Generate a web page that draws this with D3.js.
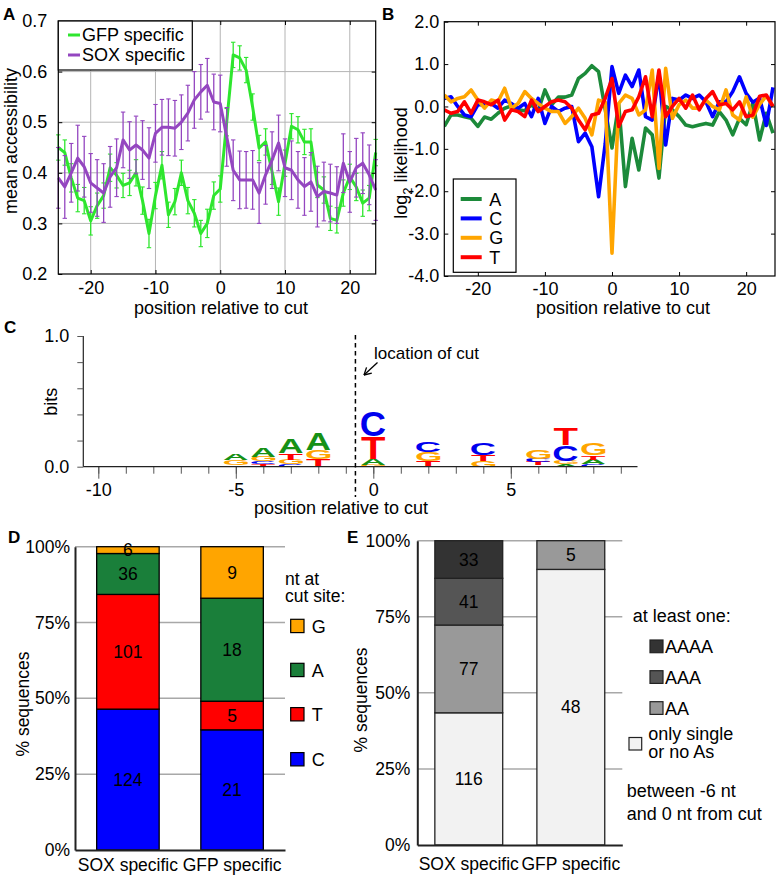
<!DOCTYPE html>
<html><head><meta charset="utf-8">
<script src="https://cdn.jsdelivr.net/npm/d3@7/dist/d3.min.js"></script>
<style>body{margin:0;background:#fff}svg{display:block}</style>
</head><body>
<svg id="fig" width="779" height="876"></svg>
<script>
// ---------------- DATA ----------------
const positionsA = d3.range(-25, 25);
const gfpMean = [0.45,0.44,0.39,0.35,0.345,0.305,0.335,0.355,0.41,0.395,0.375,0.38,0.40,0.345,0.28,0.355,0.415,0.317,0.343,0.40,0.345,0.32,0.28,0.30,0.355,
                 0.368,0.50,0.633,0.627,0.603,0.53,0.449,0.461,0.402,0.343,0.419,0.492,0.485,0.461,0.461,0.376,0.366,0.31,0.306,0.36,0.392,0.372,0.34,0.35,0.44];
const gfpErr  = [0.025,0.025,0.028,0.027,0.026,0.028,0.025,0.025,0.027,0.025,0.024,0.025,0.026,0.027,0.028,0.026,0.027,0.025,0.026,0.025,0.026,0.027,0.026,0.028,0.027,
                 0.026,0.027,0.025,0.024,0.025,0.026,0.025,0.026,0.025,0.027,0.026,0.025,0.026,0.025,0.026,0.025,0.026,0.024,0.025,0.026,0.025,0.027,0.026,0.025,0.026];
const soxMean = [0.39,0.372,0.40,0.429,0.412,0.38,0.37,0.36,0.392,0.41,0.465,0.445,0.455,0.445,0.429,0.478,0.49,0.49,0.488,0.50,0.518,0.544,0.56,0.573,0.54,
                 0.537,0.471,0.405,0.386,0.386,0.386,0.36,0.396,0.425,0.459,0.41,0.405,0.386,0.373,0.382,0.353,0.363,0.36,0.356,0.419,0.382,0.41,0.419,0.396,0.366];
const soxErr  = [0.06,0.062,0.058,0.065,0.06,0.058,0.056,0.058,0.06,0.057,0.055,0.056,0.057,0.058,0.06,0.057,0.055,0.056,0.055,0.054,0.055,0.056,0.054,0.053,0.055,
                 0.056,0.058,0.06,0.057,0.056,0.058,0.06,0.058,0.056,0.055,0.057,0.058,0.056,0.057,0.058,0.06,0.058,0.057,0.056,0.058,0.06,0.058,0.06,0.059,0.06];
const seriesA = ["GFP specific", "SOX specific"];

const positionsB = d3.range(-25, 25);
const likeA = [-0.47,-0.2,-0.2,-0.24,-0.28,-0.47,-0.25,-0.3,-0.16,-0.04,0.01,-0.08,-0.1,0.04,-0.1,0.39,0.04,0.22,0.22,0.27,0.66,0.78,0.96,0.82,-0.08,
               -0.98,0.05,-1.89,-0.75,-1.5,-0.51,-0.67,-1.69,0.0,-0.08,-0.24,-0.44,-0.48,-0.44,-0.4,-0.44,-0.12,-0.32,-0.67,-0.28,-0.43,0.08,-0.79,-0.16,-0.63];
const likeC = [0.19,0.23,0.0,-0.2,-0.24,0.04,0.04,0.07,-0.04,0.15,0.07,-0.04,0.07,-0.24,0.19,-0.4,0.0,-0.12,-0.04,0.0,-0.83,-0.63,-0.95,-2.13,-0.87,
               0.94,0.31,0.74,0.47,0.86,-0.24,-0.32,0.78,-0.91,0.19,0.15,0.27,0.19,0.27,0.11,-0.24,0.11,0.11,0.35,0.7,0.31,0.1,0.2,-0.45,0.45];
const likeG = [0.27,0.11,0.19,0.23,0.39,0.15,-0.04,0.15,0.11,0.43,-0.04,0.07,0.35,0.19,0.07,-0.04,-0.12,-0.12,-0.4,-0.24,-0.04,-0.28,-0.67,0.15,0.1,
               -3.46,0.07,0.27,0.19,-0.2,-0.08,0.86,-1.46,0.9,-0.28,0.04,0.15,-0.04,-0.04,0.15,0.0,-0.08,0.39,-0.2,-0.32,0.23,-0.25,0.05,0.25,0.0];
const likeT = [-0.08,-0.16,-0.12,0.11,-0.16,0.15,0.11,0.04,0.15,-0.32,-0.08,-0.12,-0.24,0.15,-0.12,0.0,0.11,0.15,0.11,-0.04,-0.32,-0.55,-0.2,-0.16,0.2,
               0.66,-0.47,-0.12,-0.08,0.23,0.7,-0.24,0.86,-0.24,0.0,0.19,-0.04,0.27,-0.08,0.19,0.35,0.04,0.07,-0.08,0.11,-0.24,-0.2,0.24,0.27,0.0];
const nucleotides = ["A", "C", "G", "T"];

// sequence logo: letters per position, bottom to top, heights in bits
const logoPositions = [-5, -4, -3, -2, 0, 2, 4, 5, 6, 7, 8];
const logoStacks = [
  [["T",0.01],["G",0.04],["A",0.045]],
  [["T",0.02],["C",0.02],["G",0.035],["A",0.07]],
  [["C",0.02],["G",0.035],["T",0.05],["A",0.11]],
  [["T",0.055],["G",0.07],["A",0.125]],
  [["G",0.015],["A",0.045],["T",0.17],["C",0.19]],
  [["T",0.045],["G",0.065],["C",0.08]],
  [["G",0.045],["T",0.045],["C",0.09]],
  [["T",0.012]],
  [["A",0.01],["T",0.025],["C",0.025],["G",0.065]],
  [["A",0.02],["G",0.025],["C",0.12],["T",0.125]],
  [["C",0.02],["A",0.035],["T",0.03],["G",0.085]]
];
const cutPos = -0.65;

const groupsDE = ["SOX specific", "GFP specific"];
const ntOrder = ["C", "T", "A", "G"];          // bottom to top
const ntCounts = { "SOX specific": [124, 101, 36, 6], "GFP specific": [21, 5, 18, 9] };
const aOrder = ["only single or no As", "AA", "AAA", "AAAA"];
const aCounts = { "SOX specific": [116, 77, 41, 33], "GFP specific": [48, 5, 0, 0] };
const pctTicks = [0, 25, 50, 75, 100];

// ---------------- STYLE ----------------
const FONT = "'Liberation Sans', Arial, Helvetica, sans-serif";
const svg = d3.select("#fig").attr("font-family", FONT);
svg.append("rect").attr("width", 779).attr("height", 876).attr("fill", "#fff");

function panelLabel(t, x, y) {
  svg.append("text").attr("x", x).attr("y", y).attr("font-size", 17).attr("font-weight", "bold").text(t);
}
function styleAxis(g, fs) {
  g.selectAll("text").attr("font-size", fs).attr("font-family", FONT).attr("fill", "#000");
  g.selectAll(".tick line").attr("stroke", "#000");
}

// ================= PANEL A =================
const xA = d3.scaleLinear().domain([-25, 24]).range([58.3, 375.7]);
const yA = d3.scaleLinear().domain([0.2, 0.7]).range([274, 21]);
const gA = svg.append("g");
[-20, -10, 0, 10, 20].forEach(v => gA.append("line").attr("x1", xA(v)).attr("x2", xA(v)).attr("y1", 21).attr("y2", 274).attr("stroke", "#b4b4b4").attr("stroke-width", 1));
[0.3, 0.4, 0.5, 0.6].forEach(v => gA.append("line").attr("x1", 58.3).attr("x2", 375.7).attr("y1", yA(v)).attr("y2", yA(v)).attr("stroke", "#b4b4b4").attr("stroke-width", 1));

const colGFP = "#2ee62e", colSOX = "#9446c0";
function drawSeriesA(mean, err, col) {
  const g = gA.append("g");
  positionsA.forEach((p, i) => {
    const x = xA(p), y1 = yA(mean[i] - err[i]), y2 = yA(mean[i] + err[i]);
    g.append("line").attr("x1", x).attr("x2", x).attr("y1", y1).attr("y2", y2).attr("stroke", col).attr("stroke-width", 1.3);
    [y1, y2].forEach(yy => g.append("line").attr("x1", x - 2.2).attr("x2", x + 2.2).attr("y1", yy).attr("y2", yy).attr("stroke", col).attr("stroke-width", 1.1));
  });
  g.append("path").datum(positionsA.map((p, i) => [p, mean[i]]))
    .attr("d", d3.line().x(d => xA(d[0])).y(d => yA(d[1])))
    .attr("fill", "none").attr("stroke", col).attr("stroke-width", 3).attr("stroke-linejoin", "round");
}
drawSeriesA(gfpMean, gfpErr, colGFP);
drawSeriesA(soxMean, soxErr, colSOX);

const axAb = gA.append("g").attr("transform", "translate(0,274)")
  .call(d3.axisBottom(xA).tickValues([-20, -10, 0, 10, 20]).tickSize(-4).tickPadding(7).tickFormat(d => String(d)));
axAb.select(".domain").remove(); styleAxis(axAb, 18);
const axAl = gA.append("g").attr("transform", "translate(58.3,0)")
  .call(d3.axisLeft(yA).tickValues([0.2, 0.3, 0.4, 0.5, 0.6, 0.7]).tickSize(-4).tickPadding(11).tickFormat(d => d.toFixed(1)));
axAl.select(".domain").remove(); styleAxis(axAl, 18);
const axAt = gA.append("g").attr("transform", "translate(0,21)").call(d3.axisTop(xA).tickValues([-20, -10, 0, 10, 20]).tickSize(-4).tickFormat(""));
axAt.select(".domain").remove(); styleAxis(axAt, 18);
const axAr = gA.append("g").attr("transform", "translate(375.7,0)").call(d3.axisRight(yA).tickValues([0.3, 0.4, 0.5, 0.6]).tickSize(-4).tickFormat(""));
axAr.select(".domain").remove(); styleAxis(axAr, 18);
gA.append("rect").attr("x", 58.3).attr("y", 21).attr("width", 375.7 - 58.3).attr("height", 253).attr("fill", "none").attr("stroke", "#000").attr("stroke-width", 1.2);

gA.append("rect").attr("x", 58.3).attr("y", 21).attr("width", 134).attr("height", 49).attr("fill", "#fff").attr("stroke", "#000").attr("stroke-width", 1.2);
[[seriesA[0], colGFP, 35], [seriesA[1], colSOX, 55]].forEach(([t, c, y]) => {
  gA.append("line").attr("x1", 68).attr("x2", 80).attr("y1", y).attr("y2", y).attr("stroke", c).attr("stroke-width", 3);
  gA.append("text").attr("x", 82).attr("y", y + 6.3).attr("font-size", 18).text(t);
});
gA.append("text").attr("transform", "translate(17,141) rotate(-90)").attr("text-anchor", "middle").attr("font-size", 18).text("mean accessibility");
gA.append("text").attr("x", 221).attr("y", 313.5).attr("text-anchor", "middle").attr("font-size", 18).text("position relative to cut");
panelLabel("A", 3, 20);

// ================= PANEL B =================
const xB = d3.scaleLinear().domain([-25, 24.3]).range([444.3, 775]);
const yB = d3.scaleLinear().domain([-4, 2]).range([276, 21.7]);
const gB = svg.append("g");
const colB = { A: "#1c8a3a", C: "#0000ff", G: "#ffa500", T: "#ff0000" };
const likeData = { A: likeA, C: likeC, G: likeG, T: likeT };
const clipB = svg.append("defs").append("clipPath").attr("id", "clipB");
clipB.append("rect").attr("x", 444.3).attr("y", 21.7).attr("width", 775 - 444.3).attr("height", 276 - 21.7);
const linesB = gB.append("g").attr("clip-path", "url(#clipB)");
nucleotides.forEach(n => {
  linesB.append("path").datum(positionsB.map((p, i) => [p, likeData[n][i]]))
    .attr("d", d3.line().x(d => xB(d[0])).y(d => yB(d[1])))
    .attr("fill", "none").attr("stroke", colB[n]).attr("stroke-width", 3.6).attr("stroke-linejoin", "round");
});
const axBb = gB.append("g").attr("transform", "translate(0,276)")
  .call(d3.axisBottom(xB).tickValues([-20, -10, 0, 10, 20]).tickSize(-4).tickPadding(6).tickFormat(d => String(d)));
axBb.select(".domain").remove(); styleAxis(axBb, 18);
const axBl = gB.append("g").attr("transform", "translate(444.3,0)")
  .call(d3.axisLeft(yB).tickValues([-4, -3, -2, -1, 0, 1, 2]).tickSize(-4).tickPadding(5).tickFormat(d => d.toFixed(1)));
axBl.select(".domain").remove(); styleAxis(axBl, 18);
const axBt = gB.append("g").attr("transform", "translate(0,21.7)").call(d3.axisTop(xB).tickValues([-20, -10, 0, 10, 20]).tickSize(-4).tickFormat(""));
axBt.select(".domain").remove(); styleAxis(axBt, 18);
const axBr = gB.append("g").attr("transform", "translate(775,0)").call(d3.axisRight(yB).tickValues([-3, -2, -1, 0, 1]).tickSize(-4).tickFormat(""));
axBr.select(".domain").remove(); styleAxis(axBr, 18);
gB.append("rect").attr("x", 444.3).attr("y", 21.7).attr("width", 775 - 444.3).attr("height", 276 - 21.7).attr("fill", "none").attr("stroke", "#000").attr("stroke-width", 1.2);
gB.append("rect").attr("x", 453.3).attr("y", 179).attr("width", 62.7).attr("height", 93.3).attr("fill", "#fff").attr("stroke", "#000").attr("stroke-width", 1.2);
nucleotides.forEach((n, i) => {
  const y = 199 + i * 19.4;
  gB.append("line").attr("x1", 460.7).attr("x2", 481.7).attr("y1", y).attr("y2", y).attr("stroke", colB[n]).attr("stroke-width", 4);
  gB.append("text").attr("x", 489.3).attr("y", y + 6.5).attr("font-size", 18).text(n);
});
const tB = gB.append("text").attr("transform", "translate(407,163) rotate(-90)").attr("text-anchor", "middle").attr("font-size", 18);
tB.append("tspan").text("log");
tB.append("tspan").attr("dy", 5).attr("font-size", 13).text("2");
tB.append("tspan").attr("dy", -5).text(" likelihood");
gB.append("text").attr("x", 623).attr("y", 313.5).attr("text-anchor", "middle").attr("font-size", 18).text("position relative to cut");
panelLabel("B", 382, 20);

// ================= PANEL C =================
const xC = d3.scaleLinear().domain([-10, 9]).range([98.3, 620.8]);
const yC = d3.scaleLinear().domain([0, 1]).range([466.7, 336]);
const gC = svg.append("g");
const colLogo = { A: "#169116", C: "#0000ee", G: "#ffa500", T: "#ff0000" };
const ctx = document.createElement("canvas").getContext("2d");
ctx.font = "bold 100px 'Liberation Sans', Arial, sans-serif";
const letterW = 24;
logoPositions.forEach((p, i) => {
  let base = 0;
  logoStacks[i].forEach(([ch, h]) => {
    const m = ctx.measureText(ch);
    const L = m.actualBoundingBoxLeft, R = m.actualBoundingBoxRight, As = m.actualBoundingBoxAscent, De = m.actualBoundingBoxDescent;
    const yBot = yC(base), yTop = yC(base + h);
    const sx = letterW / (L + R), sy = (yBot - yTop) / (As + De);
    const x0 = xC(p) - letterW / 2;
    gC.append("text").text(ch).attr("font-size", 100).attr("font-weight", "bold")
      .attr("fill", colLogo[ch])
      .attr("transform", `translate(${x0 + L * sx},${yBot - De * sy}) scale(${sx},${sy})`);
    base += h;
  });
});
const axCl = gC.append("g").attr("transform", "translate(83.3,0)")
  .call(d3.axisLeft(yC).tickValues([0, 0.2, 0.4, 0.6, 0.8, 1]).tickSize(6).tickPadding(8)
    .tickFormat(d => (d === 0 || d === 1) ? d.toFixed(1) : ""));
axCl.select(".domain").attr("stroke", "#222").attr("stroke-width", 1.2).attr("d", "M0,336V466.7");
styleAxis(axCl, 18); axCl.selectAll(".tick line").attr("stroke", "#555");
const axCb = gC.append("g").attr("transform", "translate(0,466.7)")
  .call(d3.axisBottom(xC).tickValues(d3.range(-10, 10)).tickSize(7).tickFormat(""));
axCb.select(".domain").remove(); axCb.selectAll(".tick line").attr("stroke", "#555");
const axCb2 = gC.append("g").attr("transform", "translate(0,466.7)")
  .call(d3.axisBottom(xC).tickValues([-10, -5, 0, 5]).tickSize(12).tickPadding(5).tickFormat(d => String(d)));
axCb2.select(".domain").remove(); styleAxis(axCb2, 18); axCb2.selectAll(".tick line").attr("stroke", "#555");
gC.append("line").attr("x1", 83.3).attr("x2", 637.5).attr("y1", 466.7).attr("y2", 466.7).attr("stroke", "#222").attr("stroke-width", 1.2);
gC.append("line").attr("x1", xC(cutPos)).attr("x2", xC(cutPos)).attr("y1", 335).attr("y2", 497)
  .attr("stroke", "#000").attr("stroke-width", 1.5).attr("stroke-dasharray", "4.5,3.5");
gC.append("text").attr("x", 374).attr("y", 358.5).attr("font-size", 17).text("location of cut");
(function arrow() {
  const x1 = 377.5, y1 = 362.5, x2 = 364, y2 = 375;
  const ang = Math.atan2(y2 - y1, x2 - x1), L = 8;
  gC.append("line").attr("x1", x1).attr("y1", y1).attr("x2", x2).attr("y2", y2).attr("stroke", "#000").attr("stroke-width", 1.3);
  [-0.5, 0.5].forEach(a => gC.append("line").attr("x1", x2).attr("y1", y2)
    .attr("x2", x2 - L * Math.cos(ang + a)).attr("y2", y2 - L * Math.sin(ang + a)).attr("stroke", "#000").attr("stroke-width", 1.3));
})();
gC.append("text").attr("transform", "translate(57,401.7) rotate(-90)").attr("text-anchor", "middle").attr("font-size", 18).text("bits");
gC.append("text").attr("x", 341).attr("y", 514).attr("text-anchor", "middle").attr("font-size", 18).text("position relative to cut");
panelLabel("C", 4, 333);

// ================= PANEL D =================
const xD = d3.scaleBand().domain(groupsDE).range([75, 285]).paddingInner(0.4).paddingOuter(0.208);
const yD = d3.scaleLinear().domain([0, 100]).range([850, 546.7]);
const gD = svg.append("g");
const colD = { G: "#ffa500", A: "#1a7f3a", T: "#ff0000", C: "#0000ff" };
[25, 50, 75, 100].forEach(v => gD.append("line").attr("x1", 75).attr("x2", 285).attr("y1", yD(v)).attr("y2", yD(v)).attr("stroke", "#a8a8a8").attr("stroke-width", 1.5));
groupsDE.forEach(gname => {
  const counts = ntCounts[gname], tot = d3.sum(counts);
  let cum = 0;
  counts.forEach((c, i) => {
    const p0 = cum / tot * 100, p1 = (cum + c) / tot * 100;
    gD.append("rect").attr("x", xD(gname)).attr("width", xD.bandwidth()).attr("y", yD(p1)).attr("height", yD(p0) - yD(p1))
      .attr("fill", colD[ntOrder[i]]).attr("stroke", "#000").attr("stroke-width", 1.3);
    gD.append("text").attr("x", xD(gname) + xD.bandwidth() / 2).attr("y", (yD(p0) + yD(p1)) / 2 + 6.2)
      .attr("text-anchor", "middle").attr("font-size", 17.5).text(c);
    cum += c;
  });
});
const axDl = gD.append("g").attr("transform", "translate(75,0)")
  .call(d3.axisLeft(yD).tickValues(pctTicks).tickSize(0).tickPadding(5).tickFormat(d => d + "%"));
axDl.select(".domain").attr("stroke", "#222").attr("stroke-width", 2); styleAxis(axDl, 17.5);
const axDb = gD.append("g").attr("transform", "translate(0,850)")
  .call(d3.axisBottom(xD).tickSize(0).tickPadding(9));
axDb.select(".domain").attr("stroke", "#222").attr("stroke-width", 2); styleAxis(axDb, 17.5);
gD.append("text").attr("transform", "translate(29,704) rotate(-90)").attr("text-anchor", "middle").attr("font-size", 17.5).text("% sequences");
gD.append("text").attr("x", 285).attr("y", 585).attr("font-size", 17.5).text("nt at");
gD.append("text").attr("x", 285).attr("y", 602).attr("font-size", 17.5).text("cut site:");
const legD = ["G", "A", "T", "C"], legDy = [626, 670, 714.3, 759.3];
legD.forEach((n, i) => {
  gD.append("rect").attr("x", 290.7).attr("y", legDy[i] - 6.7).attr("width", 13.3).attr("height", 13.3).attr("fill", colD[n]).attr("stroke", "#000").attr("stroke-width", 1.2);
  gD.append("text").attr("x", 311.7).attr("y", legDy[i] + 6.5).attr("font-size", 18).text(n);
});
panelLabel("D", 8, 543);

// ================= PANEL E =================
const xE = d3.scaleBand().domain(groupsDE).range([417.3, 622.3]).paddingInner(0.335).paddingOuter(0.172);
const yE = d3.scaleLinear().domain([0, 100]).range([845, 540.7]);
const gE = svg.append("g");
const colE = { "only single or no As": "#f2f2f2", "AA": "#999999", "AAA": "#555555", "AAAA": "#333333" };
[25, 50, 75, 100].forEach(v => gE.append("line").attr("x1", 417.3).attr("x2", 622.3).attr("y1", yE(v)).attr("y2", yE(v)).attr("stroke", "#a8a8a8").attr("stroke-width", 1.5));
groupsDE.forEach(gname => {
  const counts = aCounts[gname], tot = d3.sum(counts);
  let cum = 0;
  counts.forEach((c, i) => {
    if (c === 0) return;
    const p0 = cum / tot * 100, p1 = (cum + c) / tot * 100;
    gE.append("rect").attr("x", xE(gname)).attr("width", xE.bandwidth()).attr("y", yE(p1)).attr("height", yE(p0) - yE(p1))
      .attr("fill", colE[aOrder[i]]).attr("stroke", "#222").attr("stroke-width", 1.3);
    gE.append("text").attr("x", xE(gname) + xE.bandwidth() / 2).attr("y", (yE(p0) + yE(p1)) / 2 + 6.2)
      .attr("text-anchor", "middle").attr("font-size", 17.5).attr("fill", "#000").text(c);
    cum += c;
  });
});
const axEl = gE.append("g").attr("transform", "translate(417.3,0)")
  .call(d3.axisLeft(yE).tickValues(pctTicks).tickSize(0).tickPadding(7).tickFormat(d => d + "%"));
axEl.select(".domain").attr("stroke", "#222").attr("stroke-width", 2); styleAxis(axEl, 17.5);
const axEb = gE.append("g").attr("transform", "translate(0,845)")
  .call(d3.axisBottom(xE).tickSize(0).tickPadding(13));
axEb.select(".domain").attr("stroke", "#222").attr("stroke-width", 2); styleAxis(axEb, 17.5);
gE.append("text").attr("transform", "translate(367,700) rotate(-90)").attr("text-anchor", "middle").attr("font-size", 17.5).text("% sequences");
gE.append("text").attr("x", 632.7).attr("y", 622).attr("font-size", 18).text("at least one:");
[["AAAA", 646.3], ["AAA", 677], ["AA", 708]].forEach(([n, y]) => {
  gE.append("rect").attr("x", 650).attr("y", y - 6.3).attr("width", 13).attr("height", 12.7).attr("fill", colE[n]).attr("stroke", "#222").attr("stroke-width", 1.2);
  gE.append("text").attr("x", 665).attr("y", y + 6.5).attr("font-size", 18).text(n);
});
gE.append("rect").attr("x", 629).attr("y", 737.5).attr("width", 12.7).attr("height", 12.5).attr("fill", colE["only single or no As"]).attr("stroke", "#222").attr("stroke-width", 1.2);
gE.append("text").attr("x", 648.3).attr("y", 740).attr("font-size", 18).text("only single");
gE.append("text").attr("x", 648.3).attr("y", 758).attr("font-size", 18).text("or no As");
gE.append("text").attr("x", 626.7).attr("y", 796.5).attr("font-size", 18).text("between -6 nt");
gE.append("text").attr("x", 626.7).attr("y", 820).attr("font-size", 18).text("and 0 nt from cut");
panelLabel("E", 347, 543);
</script>
</body></html>
